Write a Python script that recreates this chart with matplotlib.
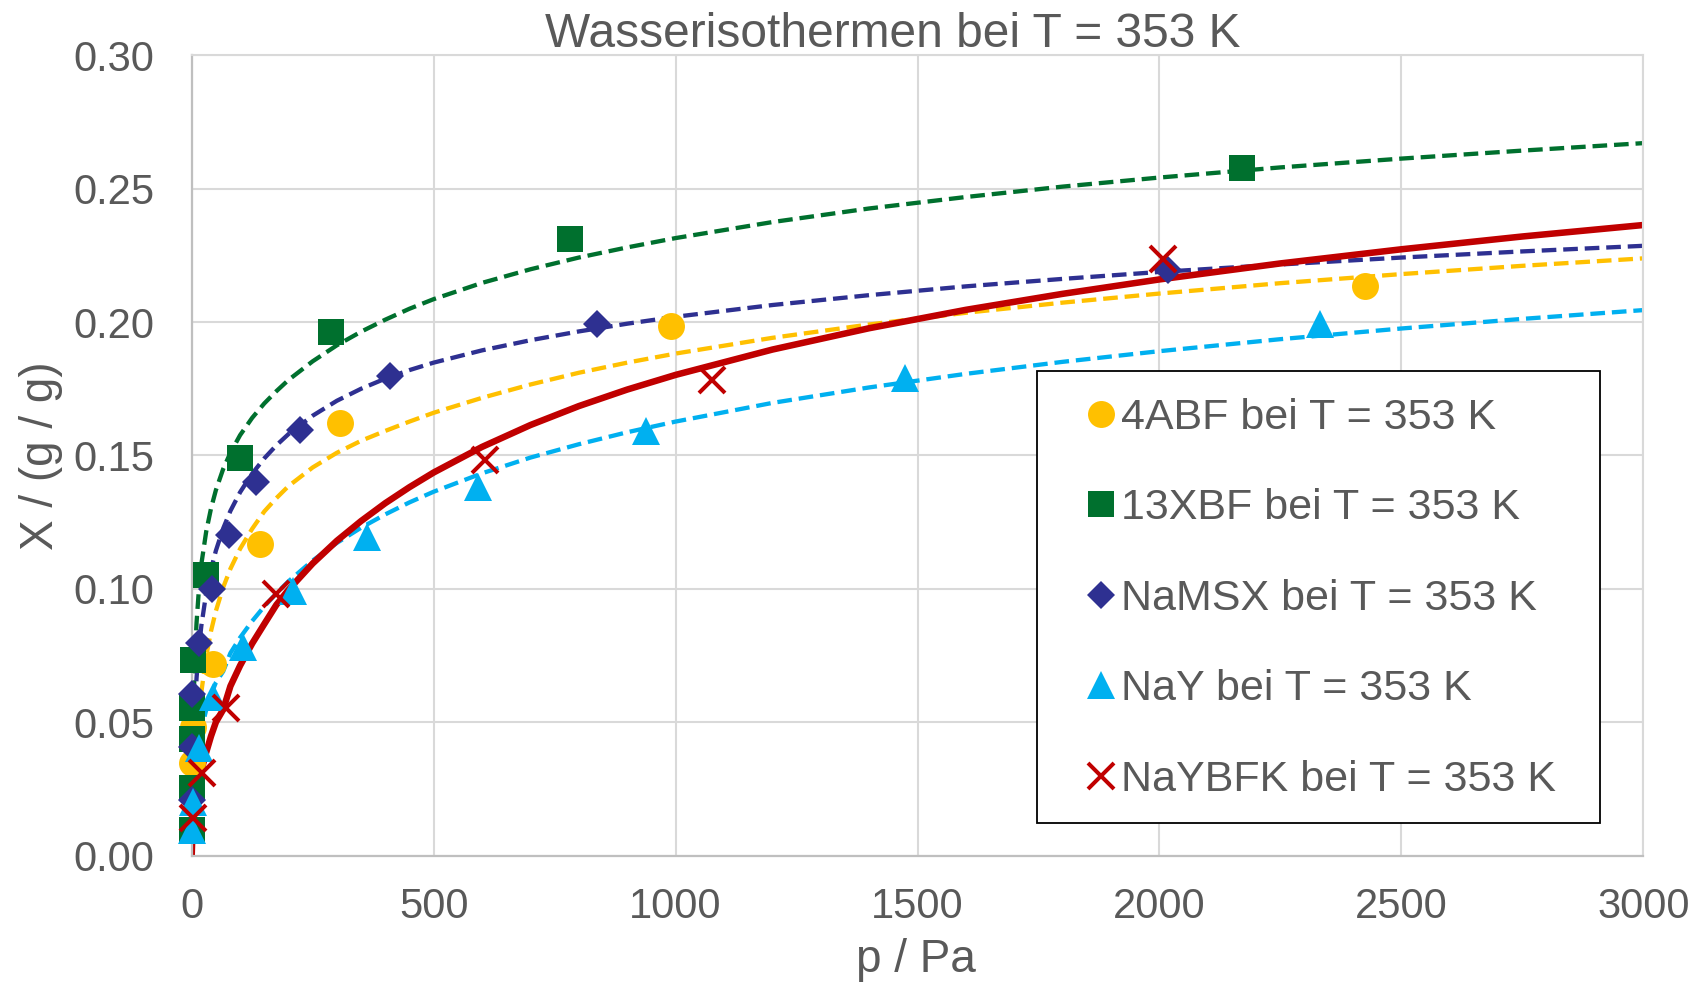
import matplotlib
matplotlib.use("Agg")
import matplotlib.pyplot as plt
from matplotlib.patches import Rectangle

plt.rcParams['font.family'] = ['Liberation Sans', 'DejaVu Sans']

TEXT = '#595959'

# measured water uptake, p in Pa, X in g/g
p_4abf = [0, 3, 45, 142, 306, 990, 2425]
X_4abf = [0.0348, 0.0482, 0.0718, 0.1167, 0.1620, 0.1984, 0.2137]

p_13xbf = [0, 0, 0, 1, 3, 30, 100, 287, 782, 2171]
X_13xbf = [0.0096, 0.0252, 0.0436, 0.0552, 0.0733, 0.1052, 0.1492, 0.1962, 0.2312, 0.2578]

p_namsx = [0, 0, 0, 16, 42, 77, 133, 223, 409, 838, 2018]
X_namsx = [0.0208, 0.0408, 0.0604, 0.0798, 0.0999, 0.1202, 0.1400, 0.1595, 0.1798, 0.1994, 0.2195]

p_nay = [0, 2, 16, 44, 106, 209, 362, 591, 939, 1475, 2331]
X_nay = [0.0096, 0.0202, 0.0402, 0.0595, 0.0783, 0.0993, 0.1195, 0.1383, 0.1593, 0.1791, 0.1994]

p_naybfk = [3, 21, 71, 175, 607, 1076, 2007]
X_naybfk = [0.0139, 0.0308, 0.0552, 0.0980, 0.1483, 0.1784, 0.2235]

# fitted isotherms, sampled on a common pressure grid
p_fit = [2, 4, 7, 10, 15, 20, 30, 40, 50, 65, 80, 100, 125, 150, 175, 200, 250, 300, 350,
         400, 450, 500, 600, 700, 800, 900, 1000, 1200, 1400, 1600, 1800, 2000, 2250, 2500,
         2750, 3000]

Xf_4abf = [None, None, None, None, 0.0520, 0.0613, 0.0747, 0.0842, 0.0917, 0.1005, 0.1075,
           0.1150, 0.1225, 0.1290, 0.1340, 0.1385, 0.1455, 0.1510, 0.1555, 0.1592, 0.1627,
           0.1660, 0.1716, 0.1766, 0.1810, 0.1848, 0.1882, 0.1941, 0.1991, 0.2035, 0.2073,
           0.2107, 0.2146, 0.2180, 0.2211, 0.2239]

Xf_13xbf = [0.0360, 0.0581, 0.0759, 0.0872, 0.1001, 0.1093, 0.1215, 0.1302, 0.1370, 0.1449,
            0.1510, 0.1576, 0.1641, 0.1695, 0.1741, 0.1783, 0.1853, 0.1913, 0.1964, 0.2009,
            0.2050, 0.2086, 0.2147, 0.2198, 0.2242, 0.2280, 0.2315, 0.2375, 0.2426, 0.2469,
            0.2508, 0.2542, 0.2580, 0.2613, 0.2643, 0.2671]

Xf_namsx = [0.0250, 0.0423, 0.0569, 0.0665, 0.0779, 0.0862, 0.0984, 0.1073, 0.1143, 0.1226,
            0.1292, 0.1362, 0.1432, 0.1489, 0.1538, 0.1580, 0.1649, 0.1705, 0.1750, 0.1788,
            0.1820, 0.1848, 0.1894, 0.1932, 0.1965, 0.1994, 0.2020, 0.2064, 0.2101, 0.2134,
            0.2162, 0.2188, 0.2216, 0.2242, 0.2265, 0.2286]

Xf_nay = [0.0202, 0.0264, 0.0325, 0.0370, 0.0427, 0.0473, 0.0546, 0.0602, 0.0649, 0.0690,
          0.0759, 0.0817, 0.0879, 0.0934, 0.0983, 0.1028, 0.1106, 0.1172, 0.1229, 0.1279,
          0.1324, 0.1364, 0.1433, 0.1492, 0.1542, 0.1587, 0.1627, 0.1697, 0.1755, 0.1806,
          0.1851, 0.1891, 0.1936, 0.1976, 0.2012, 0.2045]

pf_naybfk = [0] + p_fit
Xf_naybfk = [0.0, 0.0119, 0.0156, 0.0196, 0.0225, 0.0250, 0.0319, 0.0387, 0.0448, 0.0500,
             0.0547, 0.0635, 0.0712, 0.0795, 0.0868, 0.0940, 0.0996, 0.1095, 0.1180, 0.1254,
             0.1321, 0.1381, 0.1436, 0.1532, 0.1614, 0.1685, 0.1747, 0.1802, 0.1897, 0.1977,
             0.2046, 0.2106, 0.2160, 0.2220, 0.2273, 0.2321, 0.2364]

labels = ['4ABF bei T = 353 K', '13XBF bei T = 353 K', 'NaMSX bei T = 353 K',
          'NaY bei T = 353 K', 'NaYBFK bei T = 353 K']

figure = plt.figure(figsize=(17.07, 9.82), dpi=100)
axis = figure.add_axes([0.1123, 0.1288, 0.8504, 0.8148])

dash = dict(linestyle=(0, (3.4, 1.6)), linewidth=3.1, zorder=2)
axis.plot(p_fit, Xf_4abf, color='#FFC000', **dash)
axis.plot(p_fit, Xf_13xbf, color='#00702E', **dash)
axis.plot(p_fit, Xf_namsx, color='#2E3091', **dash)
axis.plot(p_fit, Xf_nay, color='#00B0F0', **dash)
axis.plot(pf_naybfk, Xf_naybfk, color='#C00000', linewidth=4.7, zorder=2,
          solid_joinstyle='round')

pts = dict(linestyle='none', clip_on=False, zorder=3)
h1, = axis.plot(p_4abf, X_4abf, marker='o', markersize=19.4, color='#FFC000', markeredgewidth=0, **pts)
h2, = axis.plot(p_13xbf, X_13xbf, marker='s', markersize=18.7, color='#00702E', markeredgewidth=0, **pts)
h3, = axis.plot(p_namsx, X_namsx, marker='D', markersize=13.8, color='#2E3091', markeredgewidth=0, **pts)
h4, = axis.plot(p_nay, X_nay, marker='^', markersize=20, color='#00B0F0', markeredgewidth=0, **pts)
h5, = axis.plot(p_naybfk, X_naybfk, marker='x', markersize=19.4, color='#C00000', markeredgewidth=2.9, **pts)

axis.set_xlim(0, 3000)
axis.set_ylim(0, 0.30)
axis.set_xticks(range(0, 3001, 500))
axis.set_yticks([i * 0.05 for i in range(7)])
axis.set_yticklabels([f'{i * 0.05:.2f}' for i in range(7)])
axis.tick_params(axis='both', length=0, labelsize=30, labelcolor=TEXT)
axis.tick_params(axis='x', pad=23)
axis.tick_params(axis='y', pad=27)

axis.set_axisbelow(True)
axis.grid(True, color='#D9D9D9', linewidth=1.5)
for side in ['left', 'bottom']:
    axis.spines[side].set_color('#BFBFBF')
    axis.spines[side].set_linewidth(1.6)
for side in ['top', 'right']:
    axis.spines[side].set_color('#D9D9D9')
    axis.spines[side].set_linewidth(1.5)

figure.text(0.5228, 0.9525, 'Wasserisothermen bei T = 353 K', ha='center', va='baseline',
            fontsize=34.5, color=TEXT)
figure.text(0.5365, 0.0105, 'p / Pa', ha='center', va='baseline', fontsize=33, color=TEXT)
figure.text(0.0312, 0.5360, 'X / (g / g)', ha='center', va='baseline', rotation=90,
            rotation_mode='anchor', fontsize=33, color=TEXT)

# legend box drawn separately so the entries can sit with their own offsets
axis.add_patch(Rectangle((0.5826, 0.041), 0.3874, 0.5646, transform=axis.transAxes,
                         facecolor='white', edgecolor='black', linewidth=1.3,
                         zorder=1.5, clip_on=False))
axis.legend([h1, h2, h3, h4, h5], labels, loc='upper left', bbox_to_anchor=(0.6159, 0.5723),
            bbox_transform=axis.transAxes, frameon=False, borderpad=0, borderaxespad=0,
            handlelength=0.7, handletextpad=0.12, labelspacing=1.173, fontsize=31,
            labelcolor=TEXT)

figure.savefig('out.png', dpi=100)
